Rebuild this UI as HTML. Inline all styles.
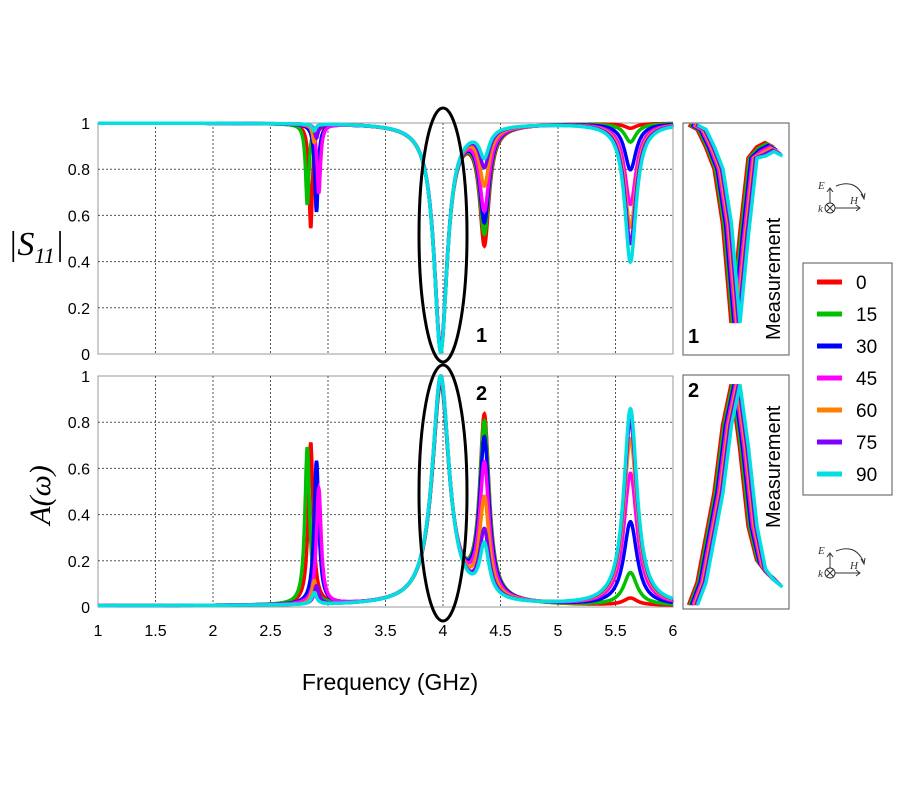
<!DOCTYPE html>
<html><head><meta charset="utf-8"><style>
body{margin:0;background:#fff;}
svg{display:block;font-family:"Liberation Sans",sans-serif;}
</style></head><body>
<svg id="chart" width="900" height="800" viewBox="0 0 900 800">
<g id="grid"></g><g id="series"></g><g id="deco">
<rect x="803" y="263" width="89" height="232" fill="#fff" stroke="#555"/>
</g>
</svg>
<script>
const angles=[0,15,30,45,60,75,90];
const colors=["#ff0000","#00c000","#0000ff","#ff00ff","#ff8000","#8000ff","#00e0e0"];
// S11 dip depths (1 - min) per resonance, per angle
const f1=[2.85,2.82,2.90,2.92,2.88,2.90,2.88];
const s11d1=[0.45,0.35,0.38,0.30,0.08,0.06,0.03];
const s11d2=[0.98,0.98,0.97,0.97,0.98,0.98,0.99];
const s11d3=[0.50,0.45,0.40,0.35,0.24,0.16,0.12];
const s11d4=[0.02,0.08,0.20,0.35,0.45,0.52,0.60];
// absorption peaks
const a1=[0.70,0.68,0.62,0.50,0.10,0.08,0.05];
const a2=[0.95,0.95,0.96,0.97,0.98,0.99,0.99];
const a3=[0.78,0.75,0.68,0.57,0.42,0.28,0.22];
const a4=[0.03,0.14,0.36,0.57,0.72,0.80,0.85];
const xTicks=[1,1.5,2,2.5,3,3.5,4,4.5,5,5.5,6];
const yTicks=[0,0.2,0.4,0.6,0.8,1];
// measurement (normalised positions 0..1 in x, value in y)
const measX=[0,0.1,0.2,0.3,0.4,0.5,0.6,0.7,0.8,0.9,1];
const meas1=[1,0.98,0.9,0.8,0.55,0.1,0.5,0.85,0.9,0.92,0.9];
const meas2=[0,0.1,0.3,0.5,0.8,0.98,0.7,0.35,0.2,0.15,0.12];
const legendLabels=["0","15","30","45","60","75","90"];

const NS="http://www.w3.org/2000/svg";
const X0=98,X1=673;
const xs=f=>X0+(f-1)/5*(X1-X0);
const ysTop=v=>354-v*231, ysBot=v=>607-v*231;
function mk(tag,at,parent){const e=document.createElementNS(NS,tag);for(const k in at)e.setAttribute(k,at[k]);parent.appendChild(e);return e;}
const G=document.getElementById('grid'),S=document.getElementById('series'),D=document.getElementById('deco');
const L=(f,f0,w)=>1/(1+((f-f0)/w)**2);

[[ysTop,'top'],[ysBot,'bottom']].forEach(([ys,nm])=>{
  const r=mk('rect',{x:X0,y:ys(1),width:X1-X0,height:231,fill:'#fff',stroke:'#999','stroke-width':1},G);
  
  xTicks.slice(1,-1).forEach(t=>{const l=mk('line',{x1:xs(t),x2:xs(t),y1:ys(1),y2:ys(0),stroke:'#555','stroke-dasharray':'2,2','stroke-width':1},G);
    });
  yTicks.slice(1,-1).forEach(t=>{const l=mk('line',{x1:X0,x2:X1,y1:ys(t),y2:ys(t),stroke:'#555','stroke-dasharray':'2,2','stroke-width':1},G);
    });
  yTicks.forEach(t=>{const tx=mk('text',{x:90,y:ys(t)+6,'text-anchor':'end','font-size':16},G);tx.textContent=String(t);
    });
});
xTicks.forEach(t=>{const tx=mk('text',{x:xs(t),y:636,'text-anchor':'middle','font-size':16},G);tx.textContent=String(t);
  });

angles.forEach((a,i)=>{
  let p1='',p2='';
  for(let f=1;f<=6.0001;f+=0.002){
    let s=1-s11d1[i]*L(f,f1[i],0.018)-s11d2[i]*L(f,3.98,0.07)-s11d3[i]*L(f,4.36,0.05)-s11d4[i]*L(f,5.63,0.06);
    s=Math.max(0,Math.min(1,s));
    let A=a1[i]*L(f,f1[i],0.025)+a2[i]*L(f,3.98,0.09)+a3[i]*L(f,4.36,0.05)+a4[i]*L(f,5.63,0.07)+0.005;
    A=Math.max(0,Math.min(1,A));
    p1+=(p1?'L':'M')+xs(f).toFixed(1)+','+ysTop(s).toFixed(1);
    p2+=(p2?'L':'M')+xs(f).toFixed(1)+','+ysBot(A).toFixed(1);
  }
  const e1=mk('path',{d:p1,fill:'none',stroke:colors[i],'stroke-width':3.5},S);
  
  const e2=mk('path',{d:p2,fill:'none',stroke:colors[i],'stroke-width':3.5},S);
  
  let m1='',m2='';
  measX.forEach((x,j)=>{const px=693+x*85+(i-3)*1.5;
    m1+=(j?'L':'M')+px+','+(345-meas1[j]*220+(j>7?i*1.5:0));
    m2+=(j?'L':'M')+px+','+(605-meas2[j]*225+(j>7?i*1.5:0));});
  const q1=mk('path',{d:m1,fill:'none',stroke:colors[i],'stroke-width':3.5},S);
  
  const q2=mk('path',{d:m2,fill:'none',stroke:colors[i],'stroke-width':3.5},S);
  
  const ly=282+i*32;
  const ll=mk('line',{x1:817,x2:842,y1:ly,y2:ly,stroke:colors[i],'stroke-width':5},D);
  
  const lt=mk('text',{x:856,y:ly+7,'font-size':19},D);lt.textContent=legendLabels[i];
  
});
</script>
<svg width="900" height="800" style="position:absolute;left:0;top:0">
<rect x="683" y="123" width="106" height="232" fill="none" stroke="#555"/>
<rect x="683" y="375" width="106" height="234" fill="none" stroke="#555"/>
<text transform="translate(780,340) rotate(-90)" font-size="20" font-family="Liberation Sans,sans-serif">Measurement</text>
<text transform="translate(780,528) rotate(-90)" font-size="20" font-family="Liberation Sans,sans-serif">Measurement</text>
<text x="688" y="343" font-size="20" font-weight="bold" font-family="Liberation Sans,sans-serif">1</text>
<text x="688" y="397" font-size="20" font-weight="bold" font-family="Liberation Sans,sans-serif">2</text>
<text x="476" y="342" font-size="20" font-weight="bold" font-family="Liberation Sans,sans-serif">1</text>
<text x="476" y="400" font-size="20" font-weight="bold" font-family="Liberation Sans,sans-serif">2</text>
<ellipse cx="443" cy="235" rx="24" ry="127" fill="none" stroke="#000" stroke-width="3"/>
<ellipse cx="443" cy="493" rx="24" ry="128" fill="none" stroke="#000" stroke-width="3"/>
<text x="390" y="690" text-anchor="middle" font-size="23" font-family="Liberation Sans,sans-serif">Frequency (GHz)</text>
<text x="8" y="255" font-size="34" font-style="italic" font-family="Liberation Serif,serif">|S<tspan font-size="22" dy="8">11</tspan><tspan dy="-8">|</tspan></text>
<text transform="translate(50,495) rotate(-90)" text-anchor="middle" font-size="30" font-style="italic" font-family="Liberation Serif,serif">A(ω)</text>
<g font-family="Liberation Serif,serif" font-style="italic" font-size="11" stroke="#333" fill="none">
<circle cx="830" cy="208" r="5"/><path d="M826.5 204.5l7 7M833.5 204.5l-7 7M830 203v-14M827 192l3-4 3 4M835 208h24M856 205l4 3-4 3M836 186q20-8 28 12M861 194l3 5 1-6"/>
<text x="818" y="189" fill="#333" stroke="none">E</text><text x="818" y="212" fill="#333" stroke="none">k</text><text x="850" y="204" fill="#333" stroke="none">H</text></g>
<g font-family="Liberation Serif,serif" font-style="italic" font-size="11" stroke="#333" fill="none">
<circle cx="830" cy="573" r="5"/><path d="M826.5 569.5l7 7M833.5 569.5l-7 7M830 568v-14M827 557l3-4 3 4M835 573h24M856 570l4 3-4 3M836 551q20-8 28 12M861 559l3 5 1-6"/>
<text x="818" y="554" fill="#333" stroke="none">E</text><text x="818" y="577" fill="#333" stroke="none">k</text><text x="850" y="569" fill="#333" stroke="none">H</text></g>
</svg>
</body></html>
